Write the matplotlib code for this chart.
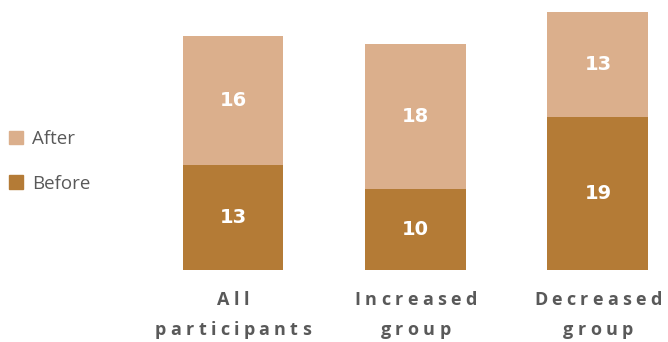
import matplotlib.pyplot as plt
from matplotlib.font_manager import FontProperties
from matplotlib.patches import Patch

groups = ["All\nparticipants", "Increased\ngroup", "Decreased\ngroup"]
before = [13, 10, 19]
after = [16, 18, 13]

before_color = "#B47B36"
after_color = "#DBAF8C"
text_gray = "#595959"
font = "Open Sans"

fig = plt.figure(figsize=(6.68, 3.42), dpi=100)
ax = fig.add_axes([0.2, 0.2105, 0.8, 0.7895])

x = range(len(groups))
ax.bar(x, before, width=0.553, color=before_color)
ax.bar(x, after, width=0.553, bottom=before, color=after_color)

# value labels in the middle of each segment
for i in x:
    ax.text(i, before[i] / 2, str(before[i]), ha="center", va="center",
            color="white", fontsize=14, fontweight="bold", family="DejaVu Sans")
    ax.text(i, before[i] + after[i] / 2, str(after[i]), ha="center", va="center",
            color="white", fontsize=14, fontweight="bold", family="DejaVu Sans")

ax.set_xlim(-0.545, 2.384)
ax.set_ylim(0, 33.5)
ax.axis("off")

# letter-spaced category labels, one glyph at a time
fig.canvas.draw()
renderer = fig.canvas.get_renderer()
prop = FontProperties(family=font, weight="bold", size=13)
W, H = fig.get_size_inches() * fig.dpi
tracking = 4.3


def spaced(cx, y_pix, s):
    widths = [renderer.get_text_width_height_descent(c, prop, ismath=False)[0] for c in s]
    total = sum(widths) + tracking * (len(s) - 1)
    px = cx - total / 2
    for c, w in zip(s, widths):
        fig.text(px / W, 1 - y_pix / H, c, fontproperties=prop, color=text_gray,
                 ha="left", va="center")
        px += w + tracking


for i, g in enumerate(groups):
    cx = ax.transData.transform((i, 0))[0]
    for k, line in enumerate(g.split("\n")):
        spaced(cx, 300 + 30 * k, line)

# legend: After above Before
handles = [Patch(color=after_color, label="After"),
           Patch(color=before_color, label="Before")]
fig.legend(handles=handles, loc="center left", bbox_to_anchor=(0.0, 0.528),
           frameon=False, prop={"family": font, "size": 13.5}, borderaxespad=0.1,
           handlelength=0.72, handleheight=0.72, handletextpad=0.5,
           labelspacing=1.4, labelcolor=text_gray)

fig.savefig("out.png", dpi=100)
